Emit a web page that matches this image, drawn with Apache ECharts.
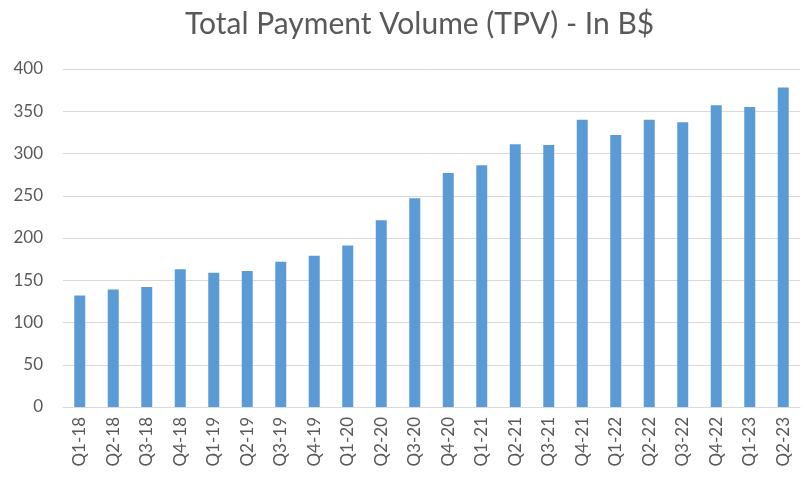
<!DOCTYPE html>
<html>
<head>
<meta charset="utf-8">
<script src="https://cdn.jsdelivr.net/npm/echarts@6/dist/echarts.min.js"></script>
<style>
  html, body { margin: 0; padding: 0; background: #fff; }
  #chart { width: 807px; height: 483px; }
</style>
</head>
<body>
<div id="chart"></div>
<script>
// quarters and TPV (billions $)
var quarters = ['Q1-18', 'Q2-18', 'Q3-18', 'Q4-18', 'Q1-19', 'Q2-19', 'Q3-19', 'Q4-19',
    'Q1-20', 'Q2-20', 'Q3-20', 'Q4-20', 'Q1-21', 'Q2-21', 'Q3-21', 'Q4-21',
    'Q1-22', 'Q2-22', 'Q3-22', 'Q4-22', 'Q1-23', 'Q2-23'];
var tpv = [132, 139, 142, 163, 159, 161, 172, 179, 191, 221, 247, 277,
    286, 311, 310, 340, 322, 340, 337, 357, 355, 378];
var yTicks = [0, 50, 100, 150, 200, 250, 300, 350, 400];

var myChart = echarts.init(document.getElementById('chart'));

var option = {
    backgroundColor: '#fff',
    title: {
        text: 'Total Payment Volume (TPV) - In B$',
        left: 180,
        top: 4,
        textStyle: { color: '#595959', fontFamily: 'Lato', fontSize: 30, fontWeight: 'normal' }
    },
    grid: { left: 63, right: 7, top: 69, bottom: 76 },
    xAxis: {
        type: 'category',
        data: quarters,
        axisLine: { lineStyle: { color: '#d9d9d9' } },
        axisTick: { show: false },
        axisLabel: { rotate: 90, color: '#595959', fontFamily: 'Lato', fontSize: 17, margin: 10 }
    },
    yAxis: {
        type: 'value',
        min: yTicks[0],
        max: yTicks[yTicks.length - 1],
        interval: 50,
        axisLine: { show: false },
        axisTick: { show: false },
        axisLabel: { color: '#595959', fontFamily: 'Lato', fontSize: 17, margin: 20 },
        splitLine: { lineStyle: { color: '#d9d9d9' } }
    },
    series: [{
        type: 'bar',
        data: tpv,
        barWidth: 11,
        itemStyle: { color: '#5b9bd5' }
    }]
};

myChart.setOption(option);
</script>
</body>
</html>
